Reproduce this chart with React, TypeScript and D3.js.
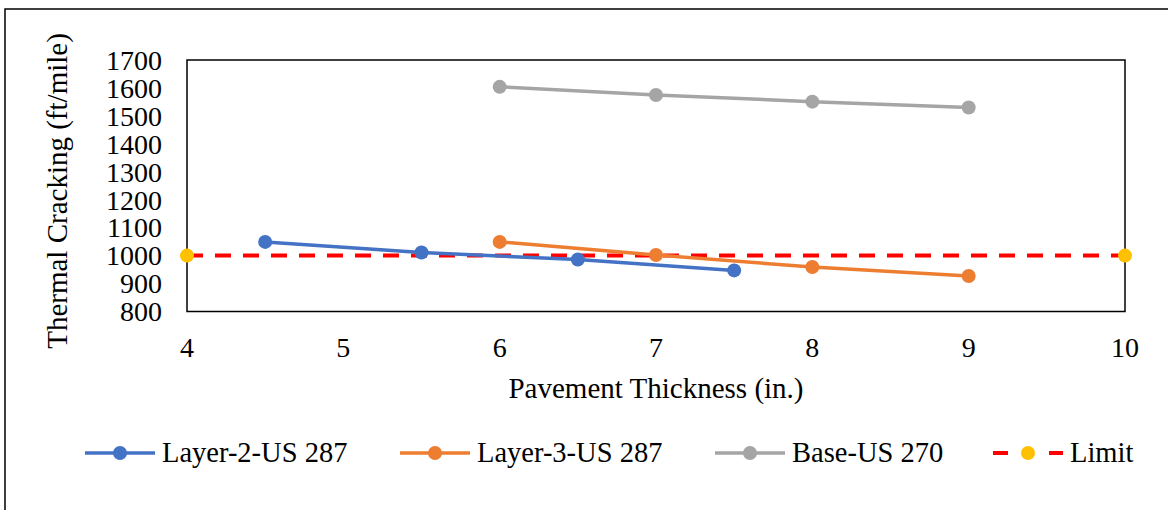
import React from "react";
import * as d3 from "d3";

const thickness2 = [4.5, 5.5, 6.5, 7.5];
const layer2US287 = [1049, 1011, 986, 947];
const thickness3 = [6, 7, 8, 9];
const layer3US287 = [1049, 1002, 959, 927];
const thicknessBase = [6, 7, 8, 9];
const baseUS270 = [1604, 1575, 1551, 1530];
const limitX = [4, 10];
const limitY = [1000, 1000];
const xTicks = [4, 5, 6, 7, 8, 9, 10];
const yTicks = [800, 900, 1000, 1100, 1200, 1300, 1400, 1500, 1600, 1700];
const seriesNames = ["Layer-2-US 287", "Layer-3-US 287", "Base-US 270", "Limit"];

const W = 1168;
const H = 510;
const plot = { left: 187, right: 1125, top: 60, bottom: 311.5 };
const FONT = "'Liberation Serif', 'Times New Roman', serif";

const COLORS = { blue: "#4472C4", orange: "#ED7D31", gray: "#A5A5A5", red: "#FF0000", yellow: "#FFC000" };

export default function App() {
  const x = d3.scaleLinear().domain([4, 10]).range([plot.left, plot.right]);
  const y = d3.scaleLinear().domain([800, 1700]).range([plot.bottom, plot.top]);
  const line = d3
    .line<[number, number]>()
    .x((d) => x(d[0]))
    .y((d) => y(d[1]));

  const series = [
    { name: seriesNames[0], xs: thickness2, ys: layer2US287, color: COLORS.blue },
    { name: seriesNames[1], xs: thickness3, ys: layer3US287, color: COLORS.orange },
    { name: seriesNames[2], xs: thicknessBase, ys: baseUS270, color: COLORS.gray },
  ];
  const limitPts: [number, number][] = limitX.map((v, i) => [v, limitY[i]]);

  const legendStarts = [85, 400, 715, 993];
  const legendY = 453;

  return (
    <svg
      width={W}
      height={H}
      style={{ position: "absolute", left: 0, top: 0, background: "#fff" }}
      fontFamily={FONT}
    >
      <rect x={0} y={0} width={W} height={H} fill="#fff" />
      {/* outer chart border */}
      <rect x={5} y={9} width={W + 20} height={H + 20} fill="none" stroke="#000" strokeWidth={1.5} />

      {/* plot area border */}
      <rect
        x={plot.left}
        y={plot.top}
        width={plot.right - plot.left}
        height={plot.bottom - plot.top}
        fill="none"
        stroke="#000"
        strokeWidth={1.5}
      />

      {/* y ticks */}
      {yTicks.map((t) => (
        <text key={t} x={162} y={y(t)} dy="0.35em" textAnchor="end" fontSize={28} fill="#000">
          {t}
        </text>
      ))}
      {/* x ticks */}
      {xTicks.map((t) => (
        <text key={t} x={x(t)} y={357} textAnchor="middle" fontSize={28} fill="#000">
          {t}
        </text>
      ))}

      {/* axis titles */}
      <text x={656} y={398} textAnchor="middle" fontSize={29} fill="#000">
        Pavement Thickness (in.)
      </text>
      <text
        transform={`translate(67, 191) rotate(-90)`}
        textAnchor="middle"
        fontSize={29}
        fill="#000"
      >
        Thermal Cracking (ft/mile)
      </text>

      {/* limit line */}
      <path
        d={line(limitPts) || ""}
        fill="none"
        stroke={COLORS.red}
        strokeWidth={4}
        strokeDasharray="16 12"
      />

      {/* series */}
      {series.map((s) => {
        const pts: [number, number][] = s.xs.map((v, i) => [v, s.ys[i]]);
        return (
          <g key={s.name}>
            <path d={line(pts) || ""} fill="none" stroke={s.color} strokeWidth={3.5} strokeLinejoin="round" />
            {pts.map((p, i) => (
              <circle key={i} cx={x(p[0])} cy={y(p[1])} r={7} fill={s.color} />
            ))}
          </g>
        );
      })}
      {limitPts.map((p, i) => (
        <circle key={i} cx={x(p[0])} cy={y(p[1])} r={7} fill={COLORS.yellow} />
      ))}

      {/* legend */}
      {series.map((s, i) => {
        const lx = legendStarts[i];
        return (
          <g key={s.name}>
            <line x1={lx} x2={lx + 70} y1={legendY} y2={legendY} stroke={s.color} strokeWidth={3.5} />
            <circle cx={lx + 35} cy={legendY} r={7} fill={s.color} />
            <text x={lx + 77} y={462} fontSize={28.5} fill="#000">
              {s.name}
            </text>
          </g>
        );
      })}
      <g>
        <line x1={legendStarts[3]} x2={legendStarts[3] + 15} y1={legendY} y2={legendY} stroke={COLORS.red} strokeWidth={4} />
        <line x1={legendStarts[3] + 56} x2={legendStarts[3] + 70} y1={legendY} y2={legendY} stroke={COLORS.red} strokeWidth={4} />
        <circle cx={legendStarts[3] + 35} cy={legendY} r={7} fill={COLORS.yellow} />
        <text x={legendStarts[3] + 77} y={462} fontSize={28.5} fill="#000">
          {seriesNames[3]}
        </text>
      </g>
    </svg>
  );
}
